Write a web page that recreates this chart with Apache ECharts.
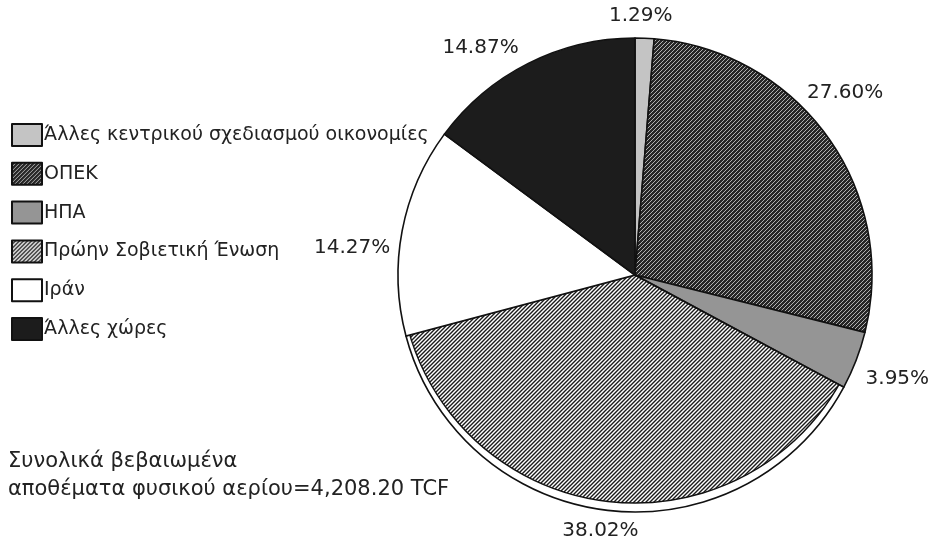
<!DOCTYPE html>
<html><head><meta charset="utf-8">
<script src="https://cdn.jsdelivr.net/npm/echarts@6/dist/echarts.min.js"></script>
<style>html,body{margin:0;padding:0;background:#fff}#c{width:929px;height:545px}</style>
</head><body><div id="c"></div>
<script>
const categories = ['Άλλες κεντρικού σχεδιασμού οικονομίες','ΟΠΕΚ','ΗΠΑ','Πρώην Σοβιετική Ένωση','Ιράν','Άλλες χώρες'];
const shares = [1.29, 27.60, 3.95, 38.02, 14.27, 14.87];
const totalNote = ['Συνολικά βεβαιωμένα','αποθέματα φυσικού αερίου=4,208.20 TCF'];

function hatch(bg, fg, gap, lw){
  const c=document.createElement('canvas'); c.width=c.height=gap;
  const g=c.getContext('2d'); g.fillStyle=bg; g.fillRect(0,0,gap,gap);
  g.strokeStyle=fg; g.lineWidth=lw; g.beginPath();
  g.moveTo(-1,gap+1); g.lineTo(gap+1,-1);
  g.moveTo(-gap/2-1,gap/2+1); g.lineTo(gap/2+1,-gap/2-1);
  g.moveTo(gap/2-1,gap*1.5+1); g.lineTo(gap*1.5+1,gap/2-1);
  g.stroke(); return {image:c, repeat:'repeat'};
}
const sovietHatch = hatch('#ffffff','#1a1a1a',4,1.4);
const fills = ['#c4c4c4', hatch('#262626','#b0b0b0',4,1), '#959595', 'rgba(255,255,255,0)', '#ffffff', '#1c1c1c'];
const SOVIET = 3;
const labelShift = [{dx:-41,dy:-14},{dx:-32,dy:-39},{dx:-3,dy:16},{dx:37,dy:12},{dx:1,dy:19},{dx:-1,dy:-8}];
const FONT = 'DejaVu Sans, Noto Sans, sans-serif';

const chart = echarts.init(document.getElementById('c'));
chart.setOption({
  animation:false,
  textStyle:{fontFamily:FONT},
  title:{text: totalNote.join('\n'), left:8, top:448, padding:0,
    textStyle:{fontSize:21, fontWeight:'normal', color:'#222', lineHeight:28, fontFamily:FONT}},
  legend:{orient:'vertical', left:11, top:123, padding:0, itemWidth:30, itemHeight:22, itemGap:14.8,
    icon:'rect', textStyle:{fontSize:19, color:'#222', lineHeight:22, padding:[0,0,0,-3], fontFamily:FONT}, data:categories},
  series:[
  {
    // offset inner print of the hatched slice (scan misregistration)
    type:'pie', z:1, silent:true, legendHoverLink:false, center:[635,268], radius:235, startAngle:90, clockwise:true,
    data: categories.map((n,i)=>({name: i===SOVIET ? n : '', value:shares[i],
      itemStyle: i===SOVIET ? {color:sovietHatch, borderColor:'#111', borderWidth:1.4} : {color:'rgba(0,0,0,0)', borderWidth:0}})),
    label:{show:false}, labelLine:{show:false}, emphasis:{disabled:true}
  },
  {
    type:'pie', z:2, center:[635,275], radius:237, startAngle:90, clockwise:true,
    data: categories.map((n,i)=>({name:n, value:shares[i], itemStyle:{color:fills[i]}})),
    itemStyle:{borderColor:'#111', borderWidth:1.6},
    label:{show:true, position:'outside', formatter: p=>p.value.toFixed(2)+'%', fontSize:20, color:'#222', fontFamily:FONT, width:90, overflow:'none', bleedMargin:0},
    labelLine:{show:false, length:8, length2:0},
    labelLayout: p=>labelShift[p.dataIndex]
  }]
});
</script></body></html>
